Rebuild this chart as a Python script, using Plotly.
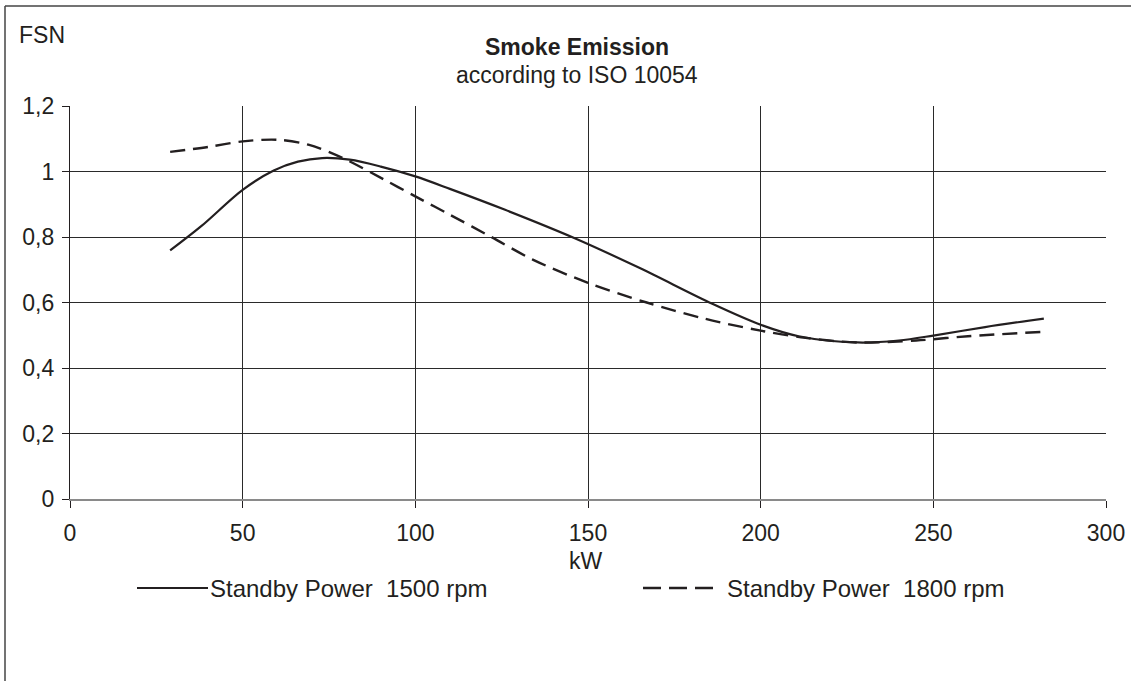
import plotly.graph_objects as go

# Data
kw_1500 = [29, 38, 50, 59, 66, 73, 81, 90, 100, 110, 126, 146, 165, 186, 200, 211, 228, 240, 250, 265, 282]
fsn_1500 = [0.759, 0.833, 0.944, 1.003, 1.03, 1.041, 1.036, 1.015, 0.985, 0.947, 0.883, 0.797, 0.705,
            0.596, 0.532, 0.497, 0.478, 0.484, 0.499, 0.525, 0.551]

kw_1800 = [29, 40, 50, 60, 69, 79, 91, 100, 110, 122, 134, 150, 167, 184, 200, 213, 228, 245, 260, 281]
fsn_1800 = [1.060, 1.075, 1.092, 1.097, 1.082, 1.041, 0.975, 0.924, 0.868, 0.800, 0.731, 0.660, 0.600,
            0.550, 0.514, 0.492, 0.478, 0.484, 0.497, 0.510]

x_ticks = [0, 50, 100, 150, 200, 250, 300]
y_ticks = [0, 0.2, 0.4, 0.6, 0.8, 1.0, 1.2]
y_tick_labels = ["0", "0,2", "0,4", "0,6", "0,8", "1", "1,2"]

series_names = ["Standby Power\u00a0\u00a01500 rpm", "Standby Power\u00a0\u00a01800 rpm"]

INK = "#231f20"
FONT = "Liberation Sans, Arial, sans-serif"
FS = 23

fig = go.Figure()
fig.add_trace(go.Scatter(x=kw_1500, y=fsn_1500, mode="lines", name=series_names[0],
                         line=dict(color=INK, width=2.2, shape="spline", smoothing=0.9),
                         showlegend=False))
fig.add_trace(go.Scatter(x=kw_1800, y=fsn_1800, mode="lines", name=series_names[1],
                         line=dict(color=INK, width=2.4, shape="spline", smoothing=0.9, dash="15px,8px"),
                         showlegend=False))

W, H = 1131, 681
L, R, T, B = 70, 25, 106, 182
pw, ph = W - L - R, H - T - B


def px(x):
    return (x - L) / pw


def py(y):
    return (H - B - y) / ph


shapes = [
    # outer frame (left and top edges)
    dict(type="line", xref="paper", yref="paper", x0=px(5), x1=px(5), y0=py(6), y1=py(690),
         line=dict(color="#444", width=1.5)),
    dict(type="line", xref="paper", yref="paper", x0=px(5), x1=px(1140), y0=py(6), y1=py(6),
         line=dict(color="#444", width=1.5)),
    # legend samples
    dict(type="line", xref="paper", yref="paper", x0=px(137), x1=px(208), y0=py(588), y1=py(588),
         line=dict(color=INK, width=2.2)),
    dict(type="line", xref="paper", yref="paper", x0=px(643), x1=px(715), y0=py(588), y1=py(588),
         line=dict(color=INK, width=2.4, dash="18px,8px")),
]

annotations = [
    dict(text="<b>Smoke Emission</b>", xref="paper", yref="paper", x=px(577), y=py(47),
         showarrow=False, font=dict(size=FS, color=INK, family=FONT), xanchor="center", yanchor="middle"),
    dict(text="according to ISO 10054", xref="paper", yref="paper", x=px(577), y=py(75),
         showarrow=False, font=dict(size=FS, color=INK, family=FONT), xanchor="center", yanchor="middle"),
    dict(text="FSN", xref="paper", yref="paper", x=px(17), y=py(35),
         showarrow=False, font=dict(size=FS, color=INK, family=FONT), xanchor="left", yanchor="middle"),
    dict(text="kW", xref="paper", yref="paper", x=px(586), y=py(561),
         showarrow=False, font=dict(size=FS, color=INK, family=FONT), xanchor="center", yanchor="middle"),
    dict(text=series_names[0], xref="paper", yref="paper", x=px(208), y=py(588),
         showarrow=False, font=dict(size=24, color=INK, family=FONT), xanchor="left", yanchor="middle"),
    dict(text=series_names[1], xref="paper", yref="paper", x=px(725), y=py(588),
         showarrow=False, font=dict(size=24, color=INK, family=FONT), xanchor="left", yanchor="middle"),
]

fig.update_layout(
    width=W, height=H,
    margin=dict(l=L, r=R, t=T, b=B, pad=0, autoexpand=False),
    paper_bgcolor="white", plot_bgcolor="white",
    font=dict(family=FONT, size=FS, color=INK),
    shapes=shapes, annotations=annotations,
    showlegend=False,
)
fig.update_xaxes(range=[0, 300], tickvals=x_ticks, ticktext=[str(v) for v in x_ticks],
                 automargin=False,
                 showgrid=True, gridcolor="#2a2a2a", gridwidth=1.2, zeroline=False,
                 showline=True, linecolor="#8a8a8a", linewidth=2.2,
                 ticks="outside", ticklen=7, tickcolor=INK, tickwidth=1.3, ticklabelstandoff=5,
                 tickfont=dict(size=FS, color=INK, family=FONT))
fig.update_yaxes(range=[0, 1.2], tickvals=y_ticks, ticktext=y_tick_labels,
                 automargin=False,
                 showgrid=True, gridcolor="#2a2a2a", gridwidth=1.2, zeroline=False,
                 showline=True, linecolor=INK, linewidth=1.4,
                 ticks="outside", ticklen=7, tickcolor=INK, tickwidth=1.3, ticklabelstandoff=3,
                 tickfont=dict(size=FS, color=INK, family=FONT))

fig.write_html("out.html",
               config={"displayModeBar": False},
               post_script="document.body.style.margin='0';document.body.style.padding='0';"
                           "document.body.style.overflow='hidden';")
